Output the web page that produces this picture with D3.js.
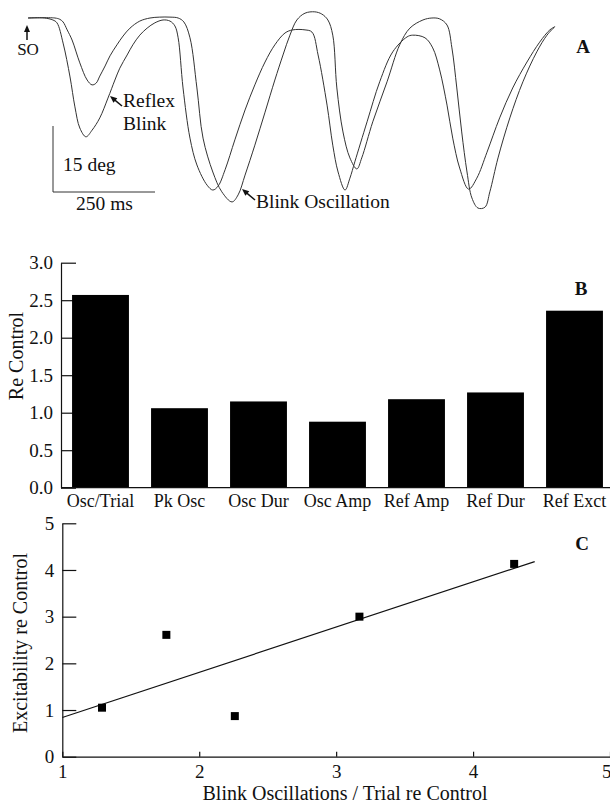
<!DOCTYPE html>
<html>
<head>
<meta charset="utf-8">
<script src="https://cdn.jsdelivr.net/npm/d3@7"></script>
<style>
  body { margin: 0; background: #fff; }
  svg { display: block; font-family: "Liberation Serif", "Times New Roman", serif; }
</style>
</head>
<body>
<div class="root"></div>
<script>
const width = 610;
const height = 803;

// panel A: two eyelid traces (time in ms, eyelid position in deg, down = closing)
const earlyT = [0, 40, 61, 71, 86, 103, 115, 127, 142, 157, 176, 196, 213, 225, 243, 257, 274, 292, 311, 331, 348, 360, 368, 380, 397, 414, 439, 453, 466, 483, 507, 532, 556, 581, 605, 630, 649, 679, 696, 711, 733, 747, 760, 777, 789, 801, 831, 862, 894, 929, 943, 973, 992, 1009, 1027, 1041, 1058, 1080, 1100, 1125, 1156, 1188, 1223, 1254, 1279, 1291];
const earlyDeg = [0, 0, 0.45, 1.1, 5.7, 13.4, 20.2, 25, 27, 25.5, 22.7, 18.2, 14.1, 11.4, 8.4, 6.1, 3.9, 2.3, 1.1, 0.45, 0.7, 1.8, 4.5, 15.9, 27.3, 33.4, 38, 39.1, 38.2, 34.5, 27.7, 20.9, 15.2, 10, 6.1, 3.4, 2.7, 2.7, 3.2, 8.4, 19.8, 28.9, 35, 39.1, 36.4, 32.7, 23.6, 14.5, 7.7, 4.3, 3.9, 4.5, 6.8, 11.8, 19.8, 27.3, 34.1, 38.9, 36.4, 30.5, 22.7, 15.9, 10, 5.5, 2.7, 2.0];
const lateT = [0, 66, 78, 86, 96, 108, 127, 145, 157, 167, 176, 189, 201, 218, 233, 250, 274, 299, 323, 348, 368, 382, 397, 414, 429, 453, 475, 500, 515, 532, 556, 581, 605, 625, 642, 659, 679, 703, 720, 735, 747, 757, 772, 789, 806, 818, 845, 880, 911, 936, 968, 990, 1009, 1027, 1039, 1051, 1063, 1076, 1088, 1103, 1120, 1132, 1152, 1181, 1213, 1247, 1272, 1291];
const lateDeg = [0, 0, 0.3, 0.9, 2.7, 5, 10.2, 14.1, 15.2, 14.8, 13.2, 10.9, 8.6, 6.1, 4.1, 2.3, 0.7, 0, -0.2, -0.2, 0, 0.9, 4.5, 15.9, 27.3, 35, 39.5, 41.8, 40.2, 35.7, 28.9, 21.4, 14.1, 8.4, 3.9, 0.45, -1.1, -1.4, -0.9, 0.45, 3.9, 15.9, 25.9, 31.8, 34.3, 31.8, 23.6, 14.5, 6.1, 2.3, 0.45, 0, 0.2, 1.6, 6.8, 15.9, 25.9, 35, 40.9, 43.2, 43, 39.5, 31.8, 22.7, 14.5, 7.7, 3.9, 2.0];
const scaleBarDeg = 15;
const scaleBarMs = 250;

// panel B
const barLabels = ["Osc/Trial", "Pk Osc", "Osc Dur", "Osc Amp", "Ref Amp", "Ref Dur", "Ref Exct"];
const barValues = [2.57, 1.06, 1.15, 0.88, 1.18, 1.27, 2.36];
const barTicks = [0, 0.5, 1.0, 1.5, 2.0, 2.5, 3.0];

// panel C
const oscRatio = [1.29, 1.76, 2.26, 3.17, 4.30];
const exctRatio = [1.05, 2.61, 0.87, 3.0, 4.13];
const fitX = [1, 4.45];
const fitY = [0.84, 4.18];
const cTicksX = [1, 2, 3, 4, 5];
const cTicksY = [0, 1, 2, 3, 4, 5];

const svg = d3.select(".root").append("svg")
  .attr("width", width)
  .attr("height", height);

const ink = "#111";
const fontSize = 18;
const tickSize = 19;
const titleSize = 20;
const noteSize = 19.5;

// ---------- panel A ----------
const xA = d3.scaleLinear().domain([0, 1300]).range([28, 28 + 1300 * 0.408]);
const yA = d3.scaleLinear().domain([0, 45]).range([18, 216]);
const traceLine = d3.line()
  .x((d) => xA(d[0]))
  .y((d) => yA(d[1]))
  .curve(d3.curveCatmullRom.alpha(0.5));

[d3.zip(earlyT, earlyDeg), d3.zip(lateT, lateDeg)].forEach((pts) => {
  svg.append("path")
    .attr("d", traceLine(pts))
    .attr("fill", "none")
    .attr("stroke", "#333")
    .attr("stroke-width", 1);
});

// scale bar
const barX0 = 53, barY0 = 192;
svg.append("path")
  .attr("d", `M${barX0},${barY0 - (yA(scaleBarDeg) - yA(0))}V${barY0}H${barX0 + xA(scaleBarMs) - xA(0)}`)
  .attr("fill", "none")
  .attr("stroke", "#333")
  .attr("stroke-width", 1);

function arrow(x1, y1, x2, y2) {
  const a = Math.atan2(y2 - y1, x2 - x1);
  const L = 7, W = 3;
  svg.append("line")
    .attr("x1", x1).attr("y1", y1)
    .attr("x2", x2 - Math.cos(a) * 4).attr("y2", y2 - Math.sin(a) * 4)
    .attr("stroke", ink).attr("stroke-width", 1.5);
  const bx = x2 - Math.cos(a) * L, by = y2 - Math.sin(a) * L;
  svg.append("path")
    .attr("d", `M${x2},${y2}L${bx - Math.sin(a) * W},${by + Math.cos(a) * W}L${bx + Math.sin(a) * W},${by - Math.cos(a) * W}Z`)
    .attr("fill", ink);
}

function label(x, y, txt, opts = {}) {
  return svg.append("text")
    .attr("x", x).attr("y", y)
    .attr("font-size", opts.size || fontSize)
    .attr("font-weight", opts.bold ? "bold" : null)
    .attr("text-anchor", opts.anchor || "start")
    .attr("fill", ink)
    .text(txt);
}

arrow(27, 40, 27, 25);
label(28, 55, "SO", { anchor: "middle", size: 17 });
arrow(122, 106, 110, 96);
label(123, 107, "Reflex", { size: noteSize });
label(123, 130, "Blink", { size: noteSize });
arrow(255, 200, 242, 189);
label(256, 208, "Blink Oscillation", { size: noteSize });
label(63, 171, "15 deg", { size: noteSize });
label(76, 210, "250 ms", { size: noteSize });
label(583, 53, "A", { anchor: "middle", bold: true, size: 19 });

// ---------- panel B ----------
const yB = d3.scaleLinear().domain([0, 3]).range([487.7, 262.7]);
const xB = d3.scaleBand().domain(barLabels).range([61, 614])
  .paddingInner(0.28).paddingOuter(0.14);

const gB = svg.append("g").attr("transform", "translate(61,0)")
  .call(d3.axisLeft(yB).tickValues(barTicks).tickFormat(d3.format(".1f"))
    .tickSizeInner(-15).tickSizeOuter(0).tickPadding(8));
styleAxis(gB, tickSize);

svg.append("g").selectAll("rect")
  .data(barValues)
  .join("rect")
  .attr("x", (d, i) => xB(barLabels[i]))
  .attr("y", (d) => yB(d))
  .attr("width", xB.bandwidth())
  .attr("height", (d) => yB(0) - yB(d))
  .attr("fill", "#000");

svg.append("line")
  .attr("x1", 61).attr("x2", width)
  .attr("y1", yB(0)).attr("y2", yB(0))
  .attr("stroke", ink).attr("stroke-width", 1.2);

const gBx = svg.append("g").attr("transform", `translate(0,${yB(0)})`)
  .call(d3.axisBottom(xB).tickSize(0).tickPadding(7));
gBx.select(".domain").remove();
styleAxis(gBx, fontSize);

svg.append("text")
  .attr("transform", `translate(23,356) rotate(-90)`)
  .attr("text-anchor", "middle")
  .attr("font-size", titleSize)
  .attr("fill", ink)
  .text("Re Control");
label(581, 295, "B", { anchor: "middle", bold: true, size: 19 });

// ---------- panel C ----------
const xC = d3.scaleLinear().domain([1, 5]).range([62.3, 610]);
const yC = d3.scaleLinear().domain([0, 5]).range([756.7, 523.3]);

const gCy = svg.append("g").attr("transform", "translate(62.3,0)")
  .call(d3.axisLeft(yC).tickValues(cTicksY).tickFormat(d3.format("d"))
    .tickSizeInner(-14).tickSizeOuter(0).tickPadding(8));
styleAxis(gCy, tickSize);

const gCx = svg.append("g").attr("transform", `translate(0,${yC(0)})`)
  .call(d3.axisBottom(xC).tickValues(cTicksX).tickFormat(d3.format("d"))
    .tickSizeInner(-5).tickSizeOuter(0).tickPadding(8));
styleAxis(gCx, tickSize);
// last label sits on the page edge: keep it inside
gCx.selectAll(".tick text").filter((d) => d === cTicksX[cTicksX.length - 1])
  .attr("text-anchor", "end").attr("x", 1);

svg.append("line")
  .attr("x1", xC(fitX[0])).attr("y1", yC(fitY[0]))
  .attr("x2", xC(fitX[1])).attr("y2", yC(fitY[1]))
  .attr("stroke", ink).attr("stroke-width", 1.2);

const sq = 8;
svg.append("g").selectAll("rect")
  .data(oscRatio)
  .join("rect")
  .attr("x", (d) => xC(d) - sq / 2)
  .attr("y", (d, i) => yC(exctRatio[i]) - sq / 2)
  .attr("width", sq)
  .attr("height", sq)
  .attr("fill", "#000");

svg.append("text")
  .attr("transform", `translate(27,643) rotate(-90)`)
  .attr("text-anchor", "middle")
  .attr("font-size", titleSize)
  .attr("fill", ink)
  .text("Excitability re Control");
label(345, 800, "Blink Oscillations / Trial re Control", { anchor: "middle", size: titleSize });
label(582, 550, "C", { anchor: "middle", bold: true, size: 19 });

function styleAxis(g, size) {
  g.attr("font-family", null).attr("font-size", null);
  g.selectAll("path, line").attr("stroke", ink).attr("stroke-width", 1.2);
  g.selectAll("text").attr("fill", ink).attr("font-size", size);
}
</script>
</body>
</html>
